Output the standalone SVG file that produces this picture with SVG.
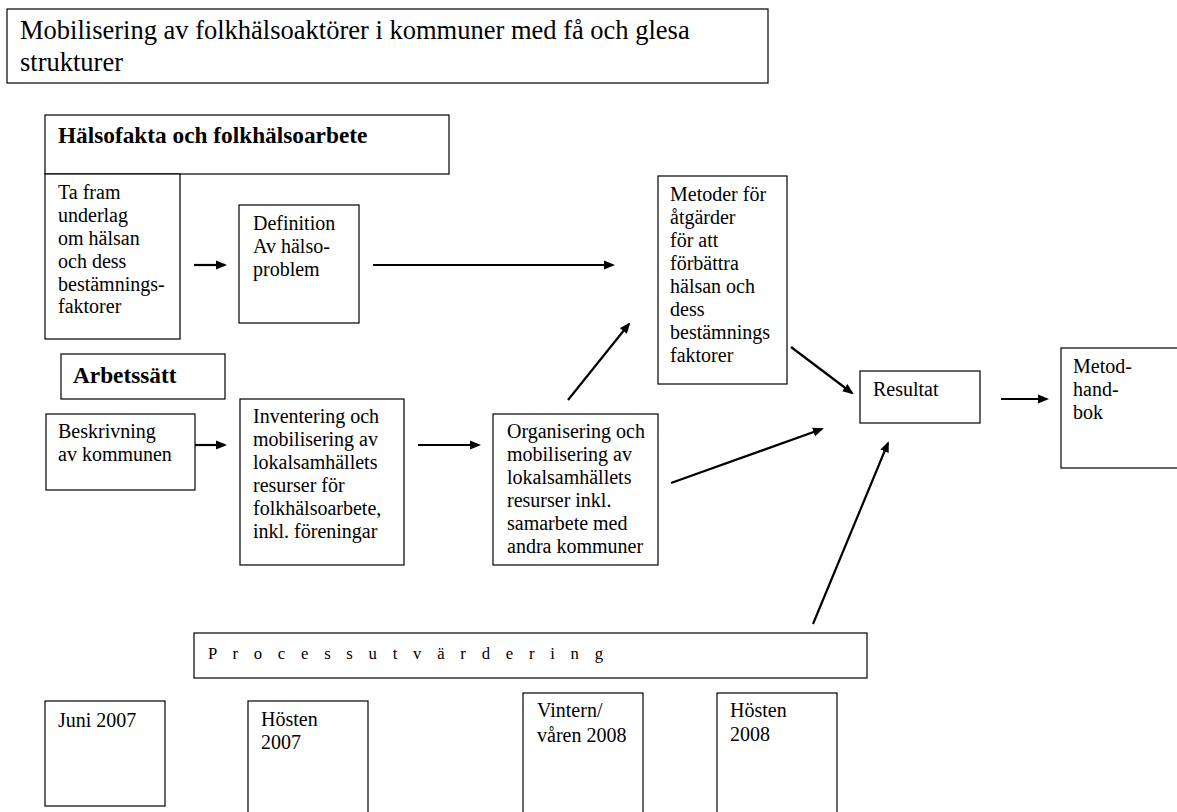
<svg xmlns="http://www.w3.org/2000/svg" width="1177" height="812" viewBox="0 0 1177 812">
<style>
.box{fill:#fff;stroke:#000;stroke-width:1.2}
.t{font-family:"Liberation Serif","Times New Roman",serif;font-size:20px;fill:#000}
.title{font-family:"Liberation Serif","Times New Roman",serif;font-size:26.5px;fill:#000}
.b{font-family:"Liberation Serif","Times New Roman",serif;font-size:23.3px;font-weight:bold;fill:#000}
.p{font-family:"Liberation Serif","Times New Roman",serif;font-size:16.7px;fill:#000}
.arr{stroke:#000;stroke-width:2.2;fill:none;marker-end:url(#ah)}
</style>
<defs>
<marker id="ah" markerUnits="userSpaceOnUse" markerWidth="12" markerHeight="10" refX="9" refY="5" orient="auto">
<path d="M0,0.5 L11,5 L0,9.5 z" fill="#000"/>
</marker>
</defs>
<rect width="1177" height="812" fill="#fff"/>

<g id="title">
<rect class="box" x="7" y="9" width="761" height="74"/>
<text class="title" x="20" y="39">Mobilisering av folkhälsoaktörer i kommuner med få och glesa</text>
<text class="title" x="20" y="71">strukturer</text>
</g>

<g id="halsofakta">
<rect class="box" x="45" y="115" width="404" height="59"/>
<text class="b" x="58" y="143">Hälsofakta och folkhälsoarbete</text>
</g>

<g id="tafram">
<rect class="box" x="45" y="174" width="135" height="165"/>
<text class="t" x="58" y="199">Ta fram</text>
<text class="t" x="58" y="222">underlag</text>
<text class="t" x="58" y="245">om hälsan</text>
<text class="t" x="58" y="268">och dess</text>
<text class="t" x="58" y="291">bestämnings-</text>
<text class="t" x="58" y="313">faktorer</text>
</g>

<g id="definition">
<rect class="box" x="239" y="205" width="120" height="118"/>
<text class="t" x="253" y="230">Definition</text>
<text class="t" x="253" y="253">Av hälso-</text>
<text class="t" x="253" y="276">problem</text>
</g>

<g id="metoder">
<rect class="box" x="658" y="176" width="129" height="208"/>
<text class="t" x="670" y="201">Metoder för</text>
<text class="t" x="670" y="224">åtgärder</text>
<text class="t" x="670" y="247">för att</text>
<text class="t" x="670" y="270">förbättra</text>
<text class="t" x="670" y="293">hälsan och</text>
<text class="t" x="670" y="316">dess</text>
<text class="t" x="670" y="339">bestämnings</text>
<text class="t" x="670" y="362">faktorer</text>
</g>

<g id="arbetssatt">
<rect class="box" x="61" y="354" width="164" height="45"/>
<text class="b" x="73" y="383">Arbetssätt</text>
</g>

<g id="beskrivning">
<rect class="box" x="46" y="414" width="149" height="76"/>
<text class="t" x="58" y="438">Beskrivning</text>
<text class="t" x="58" y="461">av kommunen</text>
</g>

<g id="inventering">
<rect class="box" x="240" y="399" width="164" height="166"/>
<text class="t" x="253" y="423">Inventering och</text>
<text class="t" x="253" y="446">mobilisering av</text>
<text class="t" x="253" y="469">lokalsamhällets</text>
<text class="t" x="253" y="492">resurser för</text>
<text class="t" x="253" y="515">folkhälsoarbete,</text>
<text class="t" x="253" y="538">inkl. föreningar</text>
</g>

<g id="organisering">
<rect class="box" x="493" y="414" width="165" height="151"/>
<text class="t" x="507" y="438">Organisering och</text>
<text class="t" x="507" y="461">mobilisering av</text>
<text class="t" x="507" y="484">lokalsamhällets</text>
<text class="t" x="507" y="507">resurser inkl.</text>
<text class="t" x="507" y="530">samarbete med</text>
<text class="t" x="507" y="553">andra kommuner</text>
</g>

<g id="resultat">
<rect class="box" x="860" y="371" width="120" height="52"/>
<text class="t" x="873" y="396">Resultat</text>
</g>

<g id="metodhandbok">
<rect class="box" x="1061" y="348" width="130" height="120"/>
<text class="t" x="1073" y="373">Metod-</text>
<text class="t" x="1073" y="396">hand-</text>
<text class="t" x="1073" y="419">bok</text>
</g>

<g id="processutvardering">
<rect class="box" x="194" y="633" width="673" height="45"/>
<text class="p" x="208" y="659" textLength="395" lengthAdjust="spacing">P r o c e s s u t v ä r d e r i n g</text>
</g>

<g id="juni2007">
<rect class="box" x="45" y="701" width="120" height="105"/>
<text class="t" x="58" y="727">Juni 2007</text>
</g>

<g id="hosten2007">
<rect class="box" x="248" y="701" width="120" height="130"/>
<text class="t" x="261" y="726">Hösten</text>
<text class="t" x="261" y="749">2007</text>
</g>

<g id="vintern2008">
<rect class="box" x="523" y="693" width="120" height="140"/>
<text class="t" x="537" y="717">Vintern/</text>
<text class="t" x="537" y="742">våren 2008</text>
</g>

<g id="hosten2008">
<rect class="box" x="717" y="693" width="120" height="140"/>
<text class="t" x="730" y="717">Hösten</text>
<text class="t" x="730" y="741">2008</text>
</g>

<g id="connectors">
<line class="arr" x1="194" y1="265" x2="225" y2="265"/>
<line class="arr" x1="373" y1="265" x2="613" y2="265"/>
<line class="arr" x1="195" y1="445" x2="225" y2="445"/>
<line class="arr" x1="418" y1="445" x2="479" y2="445"/>
<line class="arr" x1="568" y1="400" x2="629" y2="324"/>
<line class="arr" x1="671" y1="483" x2="822" y2="429"/>
<line class="arr" x1="791" y1="347" x2="852" y2="393"/>
<line class="arr" x1="1001" y1="399" x2="1047" y2="399"/>
<line class="arr" x1="813" y1="624" x2="888" y2="443"/>
</g>
</svg>
